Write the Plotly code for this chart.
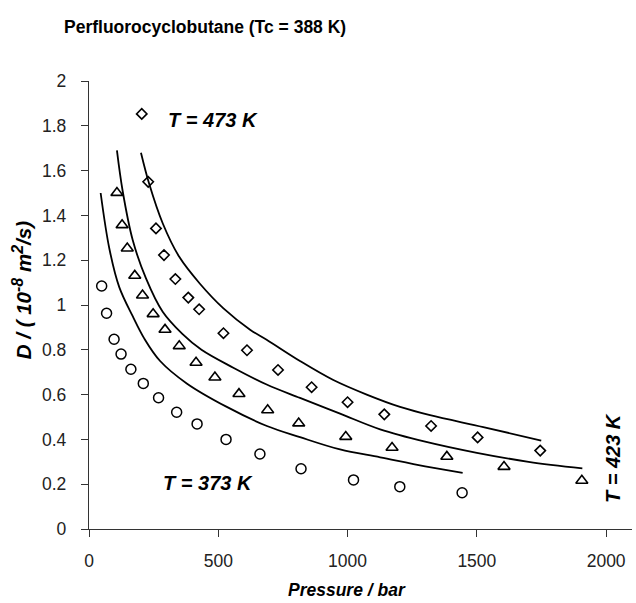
import plotly.graph_objects as go

# ---- data ----
p_373 = [49, 68, 97, 124, 162, 210, 269, 339, 418, 530, 661, 820, 1023, 1202, 1443]
d_373 = [1.085, 0.963, 0.847, 0.781, 0.713, 0.650, 0.586, 0.521, 0.469, 0.400, 0.335, 0.269, 0.219, 0.189, 0.162]

p_423 = [108, 128, 148, 177, 207, 248, 294, 349, 414, 487, 580, 691, 811, 993, 1172, 1384, 1605, 1906]
d_423 = [1.501, 1.357, 1.253, 1.131, 1.043, 0.960, 0.890, 0.817, 0.743, 0.677, 0.603, 0.531, 0.472, 0.412, 0.363, 0.323, 0.278, 0.216]

p_473 = [204, 229, 259, 290, 334, 384, 426, 520, 611, 731, 861, 1000, 1142, 1323, 1503, 1745]
d_473 = [1.853, 1.550, 1.342, 1.223, 1.116, 1.033, 0.981, 0.874, 0.798, 0.710, 0.633, 0.566, 0.512, 0.460, 0.409, 0.350]

# model curves
pc_373 = [45, 79, 117, 169, 214, 275, 378, 533, 688, 816, 971, 1126, 1300, 1445]
dc_373 = [1.50, 1.25, 1.08, 0.95, 0.85, 0.75, 0.65, 0.545, 0.46, 0.41, 0.355, 0.32, 0.28, 0.251]

pc_423 = [108, 130, 169, 220, 285, 362, 435, 558, 687, 816, 971, 1126, 1300, 1500, 1700, 1908]
dc_423 = [1.69, 1.51, 1.29, 1.12, 0.97, 0.87, 0.80, 0.72, 0.645, 0.585, 0.515, 0.445, 0.39, 0.34, 0.30, 0.271]

pc_473 = [201, 233, 285, 349, 429, 520, 623, 687, 816, 945, 1074, 1203, 1319, 1525, 1749]
dc_473 = [1.68, 1.54, 1.365, 1.215, 1.095, 0.985, 0.89, 0.845, 0.75, 0.665, 0.60, 0.545, 0.508, 0.455, 0.395]

x_ticks = [0, 500, 1000, 1500, 2000]
y_ticks = [0, 0.2, 0.4, 0.6, 0.8, 1, 1.2, 1.4, 1.6, 1.8, 2]
y_labels = ["0", "0.2", "0.4", "0.6", "0.8", "1", "1.2", "1.4", "1.6", "1.8", "2"]

FONT = "Liberation Sans, Arial, Helvetica, sans-serif"

fig = go.Figure()

for pc, dc in [(pc_373, dc_373), (pc_423, dc_423), (pc_473, dc_473)]:
    fig.add_trace(go.Scatter(x=pc, y=dc, mode="lines", line=dict(color="black", width=1.8, shape="spline", smoothing=1.0),
                             showlegend=False, hoverinfo="skip"))

fig.add_trace(go.Scatter(x=p_373, y=d_373, mode="markers",
                         marker=dict(symbol="circle-open", size=10, color="black", line=dict(width=1.5)), showlegend=False))
fig.add_trace(go.Scatter(x=p_423, y=d_423, mode="markers",
                         marker=dict(symbol="triangle-up-open", size=10.5, color="black", line=dict(width=1.6)), showlegend=False))
fig.add_trace(go.Scatter(x=p_473, y=d_473, mode="markers",
                         marker=dict(symbol="diamond-open", size=8, color="black", line=dict(width=1.6)), showlegend=False))

fig.update_layout(
    width=636, height=603,
    margin=dict(l=89, r=4, t=81, b=74),
    paper_bgcolor="white", plot_bgcolor="white",
    font=dict(family=FONT, size=17, color="black"),
    xaxis=dict(range=[0, 2100], tickvals=x_ticks, ticktext=[str(v) for v in x_ticks],
               showline=True, linecolor="#333", linewidth=1.3, ticks="outside", ticklen=7, tickwidth=1.3,
               tickcolor="#333", showgrid=False, zeroline=False, ticklabelstandoff=9,
               tickfont=dict(size=17.5, color="#222")),
    yaxis=dict(range=[0, 2], tickvals=y_ticks, ticktext=y_labels,
               showline=True, linecolor="#333", linewidth=1.3, ticks="outside", ticklen=7, tickwidth=1.3,
               tickcolor="#333", showgrid=False, zeroline=False, ticklabelstandoff=11,
               tickfont=dict(size=17.5, color="#222")),
)

annos = [
    dict(text="<b>Perfluorocyclobutane (Tc = 388 K)</b>", xref="paper", yref="paper", x=-0.0497, y=1.1205,
         xanchor="left", yanchor="middle", showarrow=False, font=dict(size=17.5)),
    dict(text="<b><i>Pressure / bar</i></b>", xref="paper", yref="paper", x=0.475, y=-0.136,
         xanchor="center", yanchor="middle", showarrow=False, font=dict(size=17.5)),
    dict(text="<b><i>D / ( 10<sup><span style='font-size:16px'>-8</span></sup> m<sup><span style='font-size:16px'>2</span></sup>/s)</i></b>",
         xref="paper", yref="paper", x=-0.1234, y=0.533,
         xanchor="center", yanchor="middle", textangle=-90, showarrow=False, font=dict(size=20.5)),
    dict(text="<b><i>T = 473 K</i></b>", xref="x", yref="y", x=480, y=1.826,
         xanchor="center", yanchor="middle", showarrow=False, font=dict(size=20)),
    dict(text="<b><i>T = 373 K</i></b>", xref="x", yref="y", x=460, y=0.205,
         xanchor="center", yanchor="middle", showarrow=False, font=dict(size=20)),
    dict(text="<b><i>T = 423 K</i></b>", xref="x", yref="y", x=2027, y=0.317,
         xanchor="center", yanchor="middle", textangle=-90, showarrow=False, font=dict(size=20)),
]
fig.update_layout(annotations=annos)

fig.write_html("out.html")
